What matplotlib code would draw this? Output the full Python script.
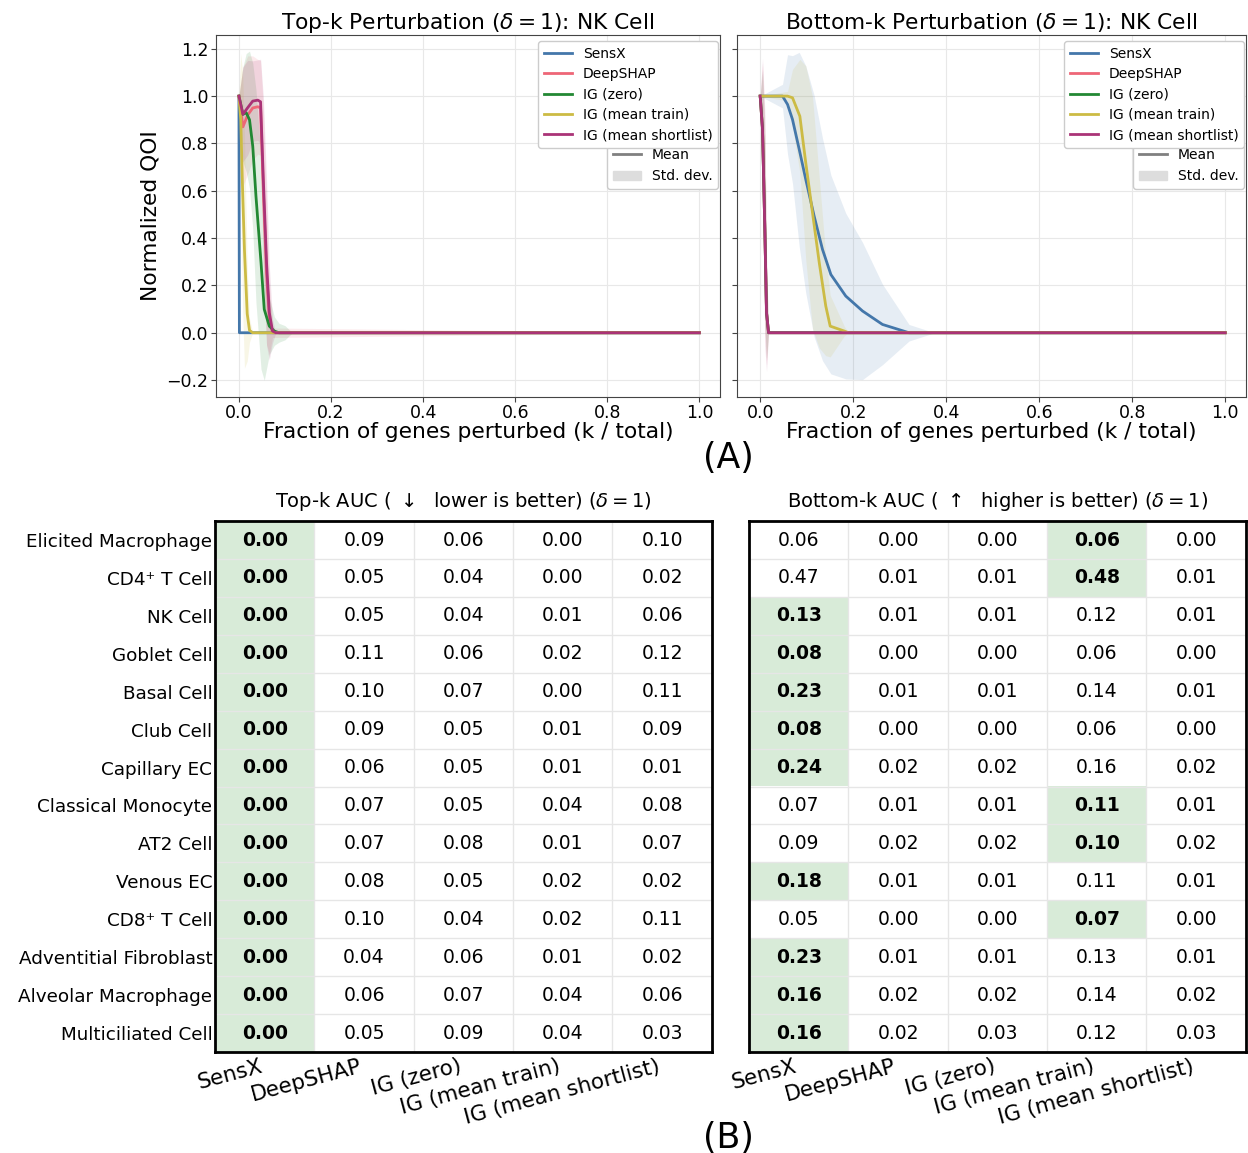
import numpy as np
import matplotlib
matplotlib.use("Agg")
import matplotlib.pyplot as plt
from matplotlib.colors import ListedColormap
from matplotlib.lines import Line2D
from matplotlib.patches import Patch

plt.rcParams["font.family"] = ["DejaVu Sans"]

methods = ["SensX", "DeepSHAP", "IG (zero)", "IG (mean train)", "IG (mean shortlist)"]
colors = ["#4477AA", "#EE6677", "#228833", "#CCBB44", "#AA3377"]

# ---- curves: Top-k perturbation, NK cell ----
top_sensx_x = [0, 0.001, 1.0]
top_sensx_mean = [1, 0, 0]
top_sensx_std = [0, 0, 0]

top_deepshap_x = [0, 0.0086, 0.019, 0.030, 0.041, 0.047, 0.053, 0.060, 0.066, 0.073, 1.0]
top_deepshap_mean = [1, 0.87, 0.92, 0.95, 0.955, 0.95, 0.60, 0.25, 0.06, 0.0, 0.0]
top_deepshap_std = [0, 0.25, 0.25, 0.22, 0.20, 0.20, 0.35, 0.30, 0.15, 0.02, 0]

top_igzero_x = [0, 0.0086, 0.0158, 0.023, 0.030, 0.037, 0.048, 0.055, 0.066, 0.077, 0.087, 0.10, 0.116, 1.0]
top_igzero_mean = [1, 0.923, 0.93, 0.90, 0.789, 0.577, 0.296, 0.099, 0.028, 0.007, 0, 0, 0, 0]
top_igzero_std = [0, 0.20, 0.25, 0.29, 0.35, 0.45, 0.45, 0.30, 0.12, 0.06, 0.04, 0.03, 0, 0]

top_igtrain_x = [0, 0.004, 0.008, 0.012, 0.018, 0.023, 0.03, 1.0]
top_igtrain_mean = [1, 0.90, 0.60, 0.35, 0.08, 0.01, 0, 0]
top_igtrain_std = [0, 0.28, 0.50, 0.50, 0.20, 0.05, 0, 0]

top_igshort_x = [0, 0.0086, 0.019, 0.030, 0.041, 0.047, 0.053, 0.060, 0.066, 0.073, 0.080, 1.0]
top_igshort_mean = [1, 0.923, 0.951, 0.979, 0.983, 0.976, 0.648, 0.296, 0.085, 0.007, 0, 0]
top_igshort_std = [0, 0.20, 0.20, 0.17, 0.17, 0.18, 0.35, 0.35, 0.20, 0.05, 0, 0]

# ---- curves: Bottom-k perturbation, NK cell ----
bot_sensx_x = [0, 0.048, 0.0588, 0.0695, 0.0839, 0.098, 0.116, 0.134, 0.152, 0.184, 0.220, 0.263, 0.320, 0.375, 1.0]
bot_sensx_mean = [1, 1, 0.965, 0.901, 0.775, 0.648, 0.493, 0.352, 0.246, 0.155, 0.092, 0.035, 0, 0, 0]
bot_sensx_std = [0, 0.05, 0.21, 0.27, 0.41, 0.48, 0.51, 0.47, 0.42, 0.35, 0.29, 0.17, 0.035, 0, 0]

bot_fast_x = [0, 0.005, 0.010, 0.0136, 0.018, 1.0]
bot_deepshap_mean = [1, 0.86, 0.437, 0.085, 0, 0]
bot_deepshap_std = [0, 0.28, 0.45, 0.22, 0, 0]
bot_igzero_mean = [1, 0.86, 0.437, 0.085, 0, 0]
bot_igzero_std = [0, 0.25, 0.40, 0.20, 0, 0]

bot_igtrain_x = [0, 0.0588, 0.0695, 0.0853, 0.098, 0.1125, 0.127, 0.141, 0.1505, 0.181, 0.19, 1.0]
bot_igtrain_mean = [1, 1, 0.993, 0.915, 0.718, 0.507, 0.296, 0.113, 0.028, 0.007, 0, 0]
bot_igtrain_std = [0, 0.02, 0.12, 0.24, 0.41, 0.49, 0.36, 0.21, 0.13, 0.02, 0, 0]

bot_igshort_mean = [1, 0.86, 0.437, 0.085, 0, 0]
bot_igshort_std = [0, 0.30, 0.50, 0.25, 0, 0]

# ---- AUC tables ----
cell_types = ["Elicited Macrophage", "CD4\u207a T Cell", "NK Cell", "Goblet Cell", "Basal Cell",
              "Club Cell", "Capillary EC", "Classical Monocyte", "AT2 Cell", "Venous EC",
              "CD8\u207a T Cell", "Adventitial Fibroblast", "Alveolar Macrophage", "Multiciliated Cell"]

top_auc = [
    [0.00, 0.09, 0.06, 0.00, 0.10],
    [0.00, 0.05, 0.04, 0.00, 0.02],
    [0.00, 0.05, 0.04, 0.01, 0.06],
    [0.00, 0.11, 0.06, 0.02, 0.12],
    [0.00, 0.10, 0.07, 0.00, 0.11],
    [0.00, 0.09, 0.05, 0.01, 0.09],
    [0.00, 0.06, 0.05, 0.01, 0.01],
    [0.00, 0.07, 0.05, 0.04, 0.08],
    [0.00, 0.07, 0.08, 0.01, 0.07],
    [0.00, 0.08, 0.05, 0.02, 0.02],
    [0.00, 0.10, 0.04, 0.02, 0.11],
    [0.00, 0.04, 0.06, 0.01, 0.02],
    [0.00, 0.06, 0.07, 0.04, 0.06],
    [0.00, 0.05, 0.09, 0.04, 0.03],
]
top_best = [0] * 14

bottom_auc = [
    [0.06, 0.00, 0.00, 0.06, 0.00],
    [0.47, 0.01, 0.01, 0.48, 0.01],
    [0.13, 0.01, 0.01, 0.12, 0.01],
    [0.08, 0.00, 0.00, 0.06, 0.00],
    [0.23, 0.01, 0.01, 0.14, 0.01],
    [0.08, 0.00, 0.00, 0.06, 0.00],
    [0.24, 0.02, 0.02, 0.16, 0.02],
    [0.07, 0.01, 0.01, 0.11, 0.01],
    [0.09, 0.02, 0.02, 0.10, 0.02],
    [0.18, 0.01, 0.01, 0.11, 0.01],
    [0.05, 0.00, 0.00, 0.07, 0.00],
    [0.23, 0.01, 0.01, 0.13, 0.01],
    [0.16, 0.02, 0.02, 0.14, 0.02],
    [0.16, 0.02, 0.03, 0.12, 0.03],
]
bottom_best = [3, 3, 0, 0, 0, 0, 0, 3, 3, 0, 3, 0, 0, 0]

top_curves = [
    (top_sensx_x, top_sensx_mean, top_sensx_std),
    (top_deepshap_x, top_deepshap_mean, top_deepshap_std),
    (top_igzero_x, top_igzero_mean, top_igzero_std),
    (top_igtrain_x, top_igtrain_mean, top_igtrain_std),
    (top_igshort_x, top_igshort_mean, top_igshort_std),
]
bot_curves = [
    (bot_sensx_x, bot_sensx_mean, bot_sensx_std),
    (bot_fast_x, bot_deepshap_mean, bot_deepshap_std),
    (bot_fast_x, bot_igzero_mean, bot_igzero_std),
    (bot_igtrain_x, bot_igtrain_mean, bot_igtrain_std),
    (bot_fast_x, bot_igshort_mean, bot_igshort_std),
]

fig = plt.figure(figsize=(12.48, 11.53), dpi=100)

ax1 = fig.add_axes([0.173, 0.656, 0.404, 0.314])
ax2 = fig.add_axes([0.5905, 0.656, 0.408, 0.314])


def line_panel(ax, curves, title, show_ylabel):
    for (x, m, s), c, name in zip(curves, colors, methods):
        x = np.array(x); m = np.array(m); s = np.array(s)
        ax.fill_between(x, m - s, m + s, color=c, alpha=0.13, lw=0)
        ax.plot(x, m, color=c, lw=2, label=name)
    ax.set_xlim(-0.05, 1.045)
    ax.set_ylim(-0.27, 1.26)
    ax.set_xticks(np.arange(0, 1.01, 0.2))
    ax.set_yticks(np.arange(-0.2, 1.21, 0.2))
    ax.grid(True, color="#e8e8e8", lw=0.8)
    ax.set_axisbelow(True)
    for sp in ax.spines.values():
        sp.set_color("#444444")
    ax.tick_params(labelsize=12.5, color="#444444", pad=2)
    ax.set_title(title, fontsize=15.7, pad=4)
    ax.set_xlabel("Fraction of genes perturbed (k / total)", fontsize=15.7, labelpad=0)
    if show_ylabel:
        ax.set_ylabel("Normalized QOI", fontsize=15.7)
    else:
        ax.tick_params(labelleft=False)
    extra = ax.legend([Line2D([], [], color="gray", lw=2), Patch(color="#dddddd")],
                      ["Mean", "Std. dev."], loc="lower right", bbox_to_anchor=(0.996, 0.574),
                      borderaxespad=0, fontsize=10, handlelength=2.0, labelspacing=0.5,
                      framealpha=1)
    ax.add_artist(extra)
    leg = ax.legend(loc="upper right", bbox_to_anchor=(0.996, 0.981), borderaxespad=0,
                    fontsize=10, handlelength=2.0, labelspacing=0.45, framealpha=1)
    leg.set_zorder(6)


line_panel(ax1, top_curves, r"Top-k Perturbation ($\delta = 1$): NK Cell", True)
line_panel(ax2, bot_curves, r"Bottom-k Perturbation ($\delta = 1$): NK Cell", False)

fig.text(0.584, 0.603, "(A)", fontsize=25, ha="center", va="center")
fig.text(0.584, 0.013, "(B)", fontsize=25, ha="center", va="center")

hm1 = fig.add_axes([0.1723, 0.0876, 0.398, 0.4605])
hm2 = fig.add_axes([0.6002, 0.0876, 0.398, 0.4605])
cmap = ListedColormap(["white", "#d8ebd8"])


def heat_panel(ax, vals, best, title, row_labels):
    vals = np.array(vals)
    nr, nc = vals.shape
    mask = np.zeros((nr, nc))
    for r, b in enumerate(best):
        mask[r, b] = 1
    ax.imshow(mask, cmap=cmap, vmin=0, vmax=1, aspect="auto")
    for r in range(nr):
        for c in range(nc):
            bold = c == best[r]
            ax.text(c, r, f"{vals[r, c]:.2f}", ha="center", va="center", fontsize=13.5,
                    fontweight="bold" if bold else "normal", color="black")
    ax.set_xticks(np.arange(nc + 1) - 0.5, minor=True)
    ax.set_yticks(np.arange(nr + 1) - 0.5, minor=True)
    ax.grid(which="minor", color="#e6e6e6", lw=1)
    ax.tick_params(which="both", length=0)
    ax.set_xticks(np.arange(nc))
    ax.set_xticklabels(methods, rotation=15, ha="right", fontsize=15.5)
    ax.set_yticks(np.arange(nr))
    if row_labels:
        ax.set_yticklabels(cell_types, fontsize=13.2)
    else:
        ax.set_yticklabels([])
    ax.tick_params(axis="x", pad=3)
    ax.tick_params(axis="y", pad=2)
    for sp in ax.spines.values():
        sp.set_linewidth(2)
        sp.set_color("black")
    ax.set_title(title, fontsize=14, pad=10)


heat_panel(hm1, top_auc, top_best, r"Top-k AUC ( $\downarrow$  lower is better) ($\delta = 1$)", True)
heat_panel(hm2, bottom_auc, bottom_best, r"Bottom-k AUC ( $\uparrow$  higher is better) ($\delta = 1$)", False)

fig.savefig("out.png", dpi=100)
